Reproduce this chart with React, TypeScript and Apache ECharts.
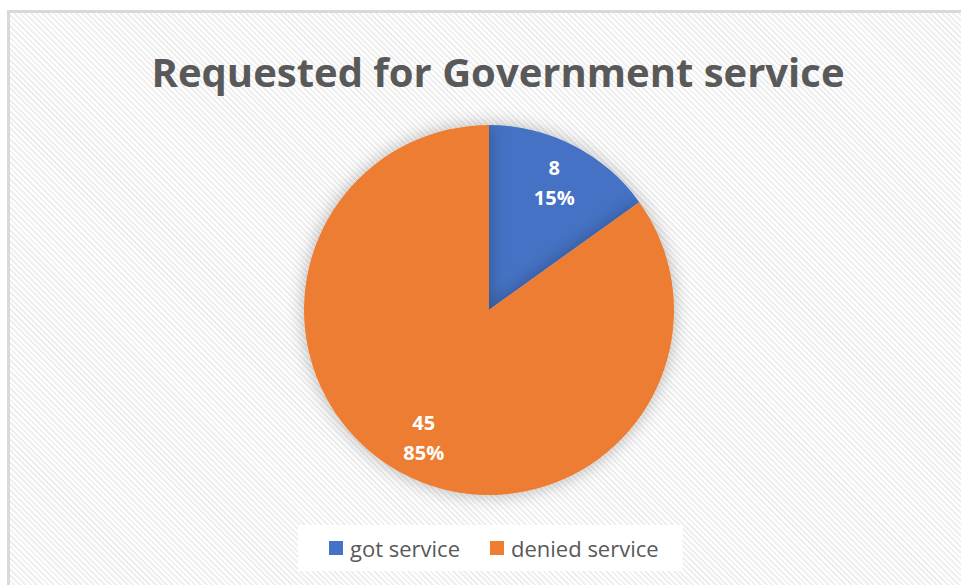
import React, { useEffect, useRef } from "react";
import * as echarts from "echarts";

const titleText = "Requested for Government service";
const categories = ["got service", "denied service"];
const values = [8, 45];
const colors = ["#4472C4", "#ED7D31"];

export default function App() {
  const ref = useRef<HTMLDivElement>(null);

  useEffect(() => {
    if (!ref.current) return;
    const chart = echarts.init(ref.current, null, { renderer: "svg" });
    const data = categories.map((name, i) => ({
      name,
      value: values[i],
      itemStyle: { color: colors[i] },
    }));
    chart.setOption({
      animation: false,
      backgroundColor: "transparent",
      title: {
        text: titleText,
        left: 498,
        textAlign: "center",
        top: 51,
        padding: 0,
        textStyle: {
          fontFamily: "Open Sans",
          fontWeight: "bold",
          fontSize: 40,
          color: "#595959",
        },
      },
      legend: {
        data: categories.map((name, i) => ({ name, itemStyle: { color: colors[i] } })),
        left: 298,
        top: 525,
        padding: [12, 24, 12, 31],
        backgroundColor: "#ffffff",
        itemWidth: 14,
        itemHeight: 14,
        itemGap: 30,
        icon: "rect",
        textStyle: { fontFamily: "Open Sans", fontSize: 22, color: "#595959", padding: [0, 0, 0, 2] },
      },
      series: [
        {
          type: "pie",
          center: [489, 310],
          radius: 185,
          startAngle: 90,
          clockwise: true,
          label: { show: false },
          labelLine: { show: false },
          silent: true,
          itemStyle: {
            shadowBlur: 18,
            shadowColor: "rgba(0,0,0,0.28)",
          },
          data,
        },
        {
          type: "pie",
          center: [489, 310],
          radius: 280,
          startAngle: 90,
          clockwise: true,
          silent: true,
          percentPrecision: 0,
          labelLine: { show: false },
          itemStyle: { color: "transparent" },
          label: {
            show: true,
            position: "inside",
            formatter: "{c}\n{d}%",
            fontFamily: "Open Sans",
            fontWeight: "bold",
            fontSize: 20,
            lineHeight: 30,
            color: "#ffffff",
          },
          data: categories.map((name, i) => ({ name, value: values[i] })),
        },
      ],
    });
    return () => chart.dispose();
  }, []);

  return (
    <div style={{ position: "absolute", left: 0, top: 0, width: 961, height: 585, background: "#ffffff", overflow: "hidden" }}>
      <div
        style={{
          position: "absolute",
          left: 7,
          top: 10,
          width: 980,
          height: 600,
          borderLeft: "3px solid #d9d9d9",
          borderTop: "3px solid #d9d9d9",
          background: "repeating-linear-gradient(45deg, #ffffff 0px, #ffffff 2px, #efefef 2px, #efefef 4px)",
        }}
      />
      <div ref={ref} style={{ position: "absolute", left: 0, top: 0, width: 961, height: 585 }} />
    </div>
  );
}
